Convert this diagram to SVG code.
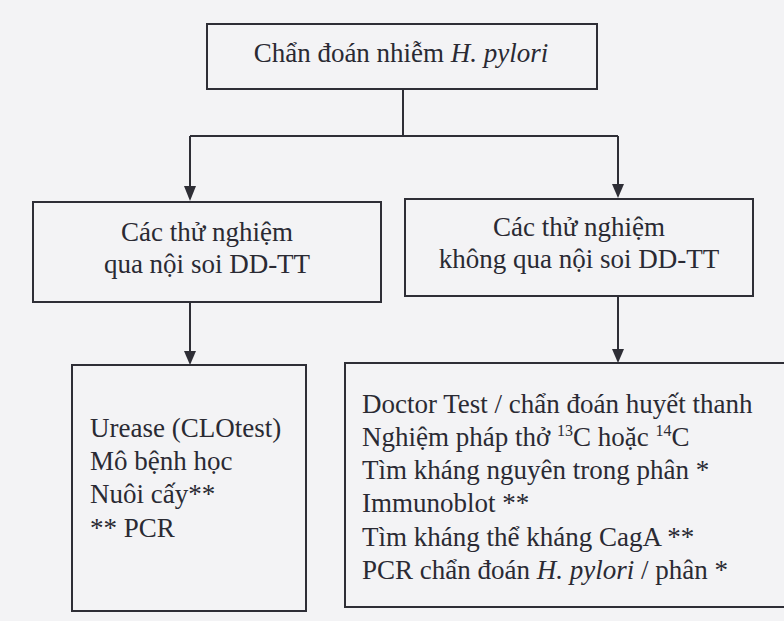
<svg xmlns="http://www.w3.org/2000/svg" width="784" height="621" viewBox="0 0 784 621">
  <defs>
    <style>
      .box { fill: none; stroke: #2e2e36; stroke-width: 2; }
      .conn { fill: none; stroke: #2e2e36; stroke-width: 2; }
      .t { font-family: "Liberation Serif", "Times New Roman", serif; font-size: 27px; fill: #2a2a33; }
      .c { text-anchor: middle; }
      .sup { font-size: 16px; }
    </style>
    <marker id="arr" viewBox="0 0 12 14" refX="6" refY="14" markerWidth="12" markerHeight="14" markerUnits="userSpaceOnUse" orient="auto-start-reverse">
      <path d="M0,0 L12,0 L6,14 Z" fill="#2e2e36" transform="rotate(0)"/>
    </marker>
  </defs>
  <rect x="0" y="0" width="784" height="621" fill="#f3f3f5"/>

  <g id="connectors">
    <path class="conn" d="M403,89 V136"/>
    <path class="conn" d="M190,136 H618"/>
    <path class="conn" d="M190,136 V188"/>
    <path d="M184,186 L196,186 L190,201 Z" fill="#2e2e36"/>
    <path class="conn" d="M618,136 V185"/>
    <path d="M612,184 L624,184 L618,198 Z" fill="#2e2e36"/>
    <path class="conn" d="M190,302 V352"/>
    <path d="M184,351 L196,351 L190,365 Z" fill="#2e2e36"/>
    <path class="conn" d="M618,296 V350"/>
    <path d="M612,349 L624,349 L618,363 Z" fill="#2e2e36"/>
  </g>

  <g id="node-root">
    <rect class="box" x="207" y="24" width="390" height="65"/>
    <text class="t c" x="401" y="62">Chẩn đoán nhiễm <tspan font-style="italic">H. pylori</tspan></text>
  </g>

  <g id="node-endoscopic">
    <rect class="box" x="33" y="202" width="348" height="100"/>
    <text class="t c" x="207" y="241">Các thử nghiệm</text>
    <text class="t c" x="207" y="273">qua nội soi DD-TT</text>
  </g>

  <g id="node-nonendoscopic">
    <rect class="box" x="405" y="199" width="348" height="97"/>
    <text class="t c" x="579" y="236">Các thử nghiệm</text>
    <text class="t c" x="579" y="268">không qua nội soi DD-TT</text>
  </g>

  <g id="node-endoscopic-tests">
    <rect class="box" x="72" y="365" width="234" height="246"/>
    <text class="t" x="90" y="437">Urease (CLOtest)</text>
    <text class="t" x="90" y="470">Mô bệnh học</text>
    <text class="t" x="90" y="503">Nuôi cấy**</text>
    <text class="t" x="90" y="537">** PCR</text>
  </g>

  <g id="node-nonendoscopic-tests">
    <rect class="box" x="345" y="363" width="460" height="244"/>
    <text class="t" x="362" y="413">Doctor Test / chẩn đoán huyết thanh</text>
    <text class="t" x="362" y="446">Nghiệm pháp thở <tspan class="sup" dy="-10">13</tspan><tspan dy="10">C hoặc </tspan><tspan class="sup" dy="-10">14</tspan><tspan dy="10">C</tspan></text>
    <text class="t" x="362" y="479">Tìm kháng nguyên trong phân *</text>
    <text class="t" x="362" y="512">Immunoblot **</text>
    <text class="t" x="362" y="546">Tìm kháng thể kháng CagA **</text>
    <text class="t" x="362" y="579">PCR chẩn đoán <tspan font-style="italic">H. pylori</tspan> / phân *</text>
  </g>
</svg>
